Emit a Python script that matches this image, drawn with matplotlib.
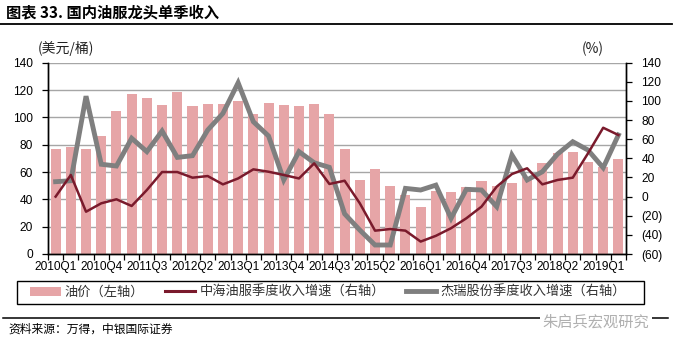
import numpy as np
import matplotlib
matplotlib.use("Agg")
import matplotlib.pyplot as plt
from matplotlib import font_manager
from matplotlib.lines import Line2D
from matplotlib.patches import Patch, Rectangle

# ---------------- data ----------------
quarters = [f"{y}Q{q}" for y in range(2010, 2020) for q in range(1, 5)][:38]
oil_price = [76.6, 78, 76.6, 86.4, 104.9, 117.4, 114, 109, 118.8, 108, 110, 110,
             112, 102.5, 110.5, 109, 108.3, 109.8, 102.5, 76.6, 54.4, 62, 50, 43.2,
             34.4, 46, 45.6, 49.3, 53.4, 49.8, 51.7, 56, 66.9, 74.2, 74.9, 67.3, 64, 69.3]
cosl_growth = [0, 22.6, -15.8, -7, -2.8, -9.8, 6.9, 25.7, 25.7, 19.8, 21.5, 12.8,
               19, 28.5, 26, 22.6, 19, 34.8, 13.2, 16.6, -7, -35.6, -33.9, -35.6,
               -47, -41, -33, -22.7, -10.5, 10.4, 23.6, 29.6, 12.8, 17.4, 19.8, 45.2, 72, 64.4]
jerry_growth = [15.6, 16.6, 105, 33.8, 32, 61, 47, 68.6, 41, 42.8, 69.6, 87,
                119, 78.3, 63.4, 17.4, 47, 35.4, 30.6, -18, -35, -50.6, -50.6, 8.6,
                6.9, 12, -22.7, 7.6, 6.9, -10.5, 43.5, 17.4, 26, 44.5, 57.4, 48.7, 30.2, 64.4]
left_ticks = [0, 20, 40, 60, 80, 100, 120, 140]
right_ticks = [-60, -40, -20, 0, 20, 40, 60, 80, 100, 120, 140]
right_tick_labels = ["(60)", "(40)", "(20)", "0", "20", "40", "60", "80", "100", "120", "140"]
label_every = 3

title = "图表 33. 国内油服龙头单季收入"
legend_labels = ["油价（左轴）", "中海油服季度收入增速（右轴）", "杰瑞股份季度收入增速（右轴）"]
left_unit = "(美元/桶)"
right_unit = "(%)"
source = "资料来源：万得，中银国际证券"
watermark = "朱启兵宏观研究"

# ---------------- style ----------------
names = {f.name for f in font_manager.fontManager.ttflist}
if "Liberation Sans Narrow" in names:
    num_font, num_size = ["Liberation Sans Narrow", "DejaVu Sans"], 10.5
else:
    num_font, num_size = ["Liberation Sans", "DejaVu Sans"], 8.6
cjk = ["Noto Sans CJK SC", "DejaVu Sans"]
plt.rcParams["font.family"] = cjk

bar_color = "#E6A5A7"
red_color = "#7A1A2C"
gray_color = "#7F7F7F"
grid_color = "#A6A6A6"

W, H = 675, 352
fig = plt.figure(figsize=(W / 100, H / 100), dpi=100)
fig.patch.set_facecolor("white")

def fx(px):
    return px / W

def fy(py):
    return 1 - py / H

ax = fig.add_axes([fx(48), fy(254), fx(626) - fx(48), fy(62.7) - fy(254)])
ax2 = ax.twinx()

x = np.arange(len(quarters))
ax.bar(x, oil_price, width=0.66, color=bar_color, zorder=2)
ax.set_xlim(-0.5, len(quarters) - 0.5)
ax.set_ylim(0, 140)
ax.set_yticks(left_ticks)
ax.yaxis.grid(True, color=grid_color, lw=1.0, zorder=0)
ax.set_axisbelow(True)

ax2.plot(x, jerry_growth, color=gray_color, lw=3.5, solid_joinstyle="miter", zorder=3)
ax2.plot(x, cosl_growth, color=red_color, lw=1.8, zorder=4)
ax2.set_ylim(-60, 140)
ax2.set_yticks(right_ticks)
ax2.set_yticklabels(right_tick_labels)

# x ticks: marks at category boundaries, labels every 3rd
ax.set_xticks(x[::label_every])
ax.set_xticklabels([quarters[i] for i in x[::label_every]])
ax.set_xticks(np.arange(-0.5, len(quarters), 1), minor=True)
ax.tick_params(axis="x", which="major", length=0, pad=5)
ax.tick_params(axis="x", which="minor", length=4, width=0.9, direction="out", color="black")
ax.tick_params(axis="y", length=4, width=0.9, direction="out", pad=7, color="black")
ax2.tick_params(axis="y", length=4, width=0.9, direction="out", pad=7, color="black")

for a in (ax, ax2):
    for lab in a.get_xticklabels() + a.get_yticklabels():
        lab.set_fontfamily(num_font)
        lab.set_fontsize(num_size)
        lab.set_color("black")

for a in (ax, ax2):
    a.spines["top"].set_visible(False)
    for s in ("left", "right", "bottom"):
        a.spines[s].set_color("black")
        a.spines[s].set_linewidth(1.0)

# unit labels
fig.text(fx(38), fy(49), left_unit, fontsize=10, va="center", ha="left", color="#222222")
fig.text(fx(582), fy(49), right_unit, fontsize=10, va="center", ha="left", color="#222222")

# title and rules
fig.text(fx(6), fy(12.5), title, fontsize=11, fontweight="bold", va="center", ha="left")
fig.add_artist(Line2D([0, fx(672)], [fy(24), fy(24)], color="black", lw=1.3))
fig.add_artist(Line2D([fx(3), fx(668)], [fy(317.7), fy(317.7)], color="black", lw=1.1))
fig.text(fx(8), fy(329), source, fontsize=8.5, style="italic", va="center", ha="left")
fig.text(fx(596), fy(322), watermark, fontsize=11, color="#B0B0B0", va="center", ha="center",
         bbox=dict(facecolor="white", edgecolor="none", pad=1.5))

# legend (frame drawn separately)
fig.add_artist(Rectangle((fx(16.7), fy(304)), fx(644) - fx(16.7), fy(281) - fy(304),
                         transform=fig.transFigure, facecolor="white", edgecolor="black", lw=1.0))
handles = [Patch(facecolor=bar_color, edgecolor="none"),
           Line2D([], [], color=red_color, lw=2.2),
           Line2D([], [], color=gray_color, lw=3.5)]
leg = fig.legend(handles, legend_labels, ncol=3,
                 bbox_to_anchor=(fx(328), fy(292.5)),
                 loc="center", fontsize=9.5, frameon=False,
                 handlelength=2.3, handletextpad=0.3, columnspacing=1.6,
                 borderaxespad=0, borderpad=0)
for t in leg.get_texts():
    t.set_color("#333333")

fig.savefig("out.png", dpi=100, facecolor="white")
